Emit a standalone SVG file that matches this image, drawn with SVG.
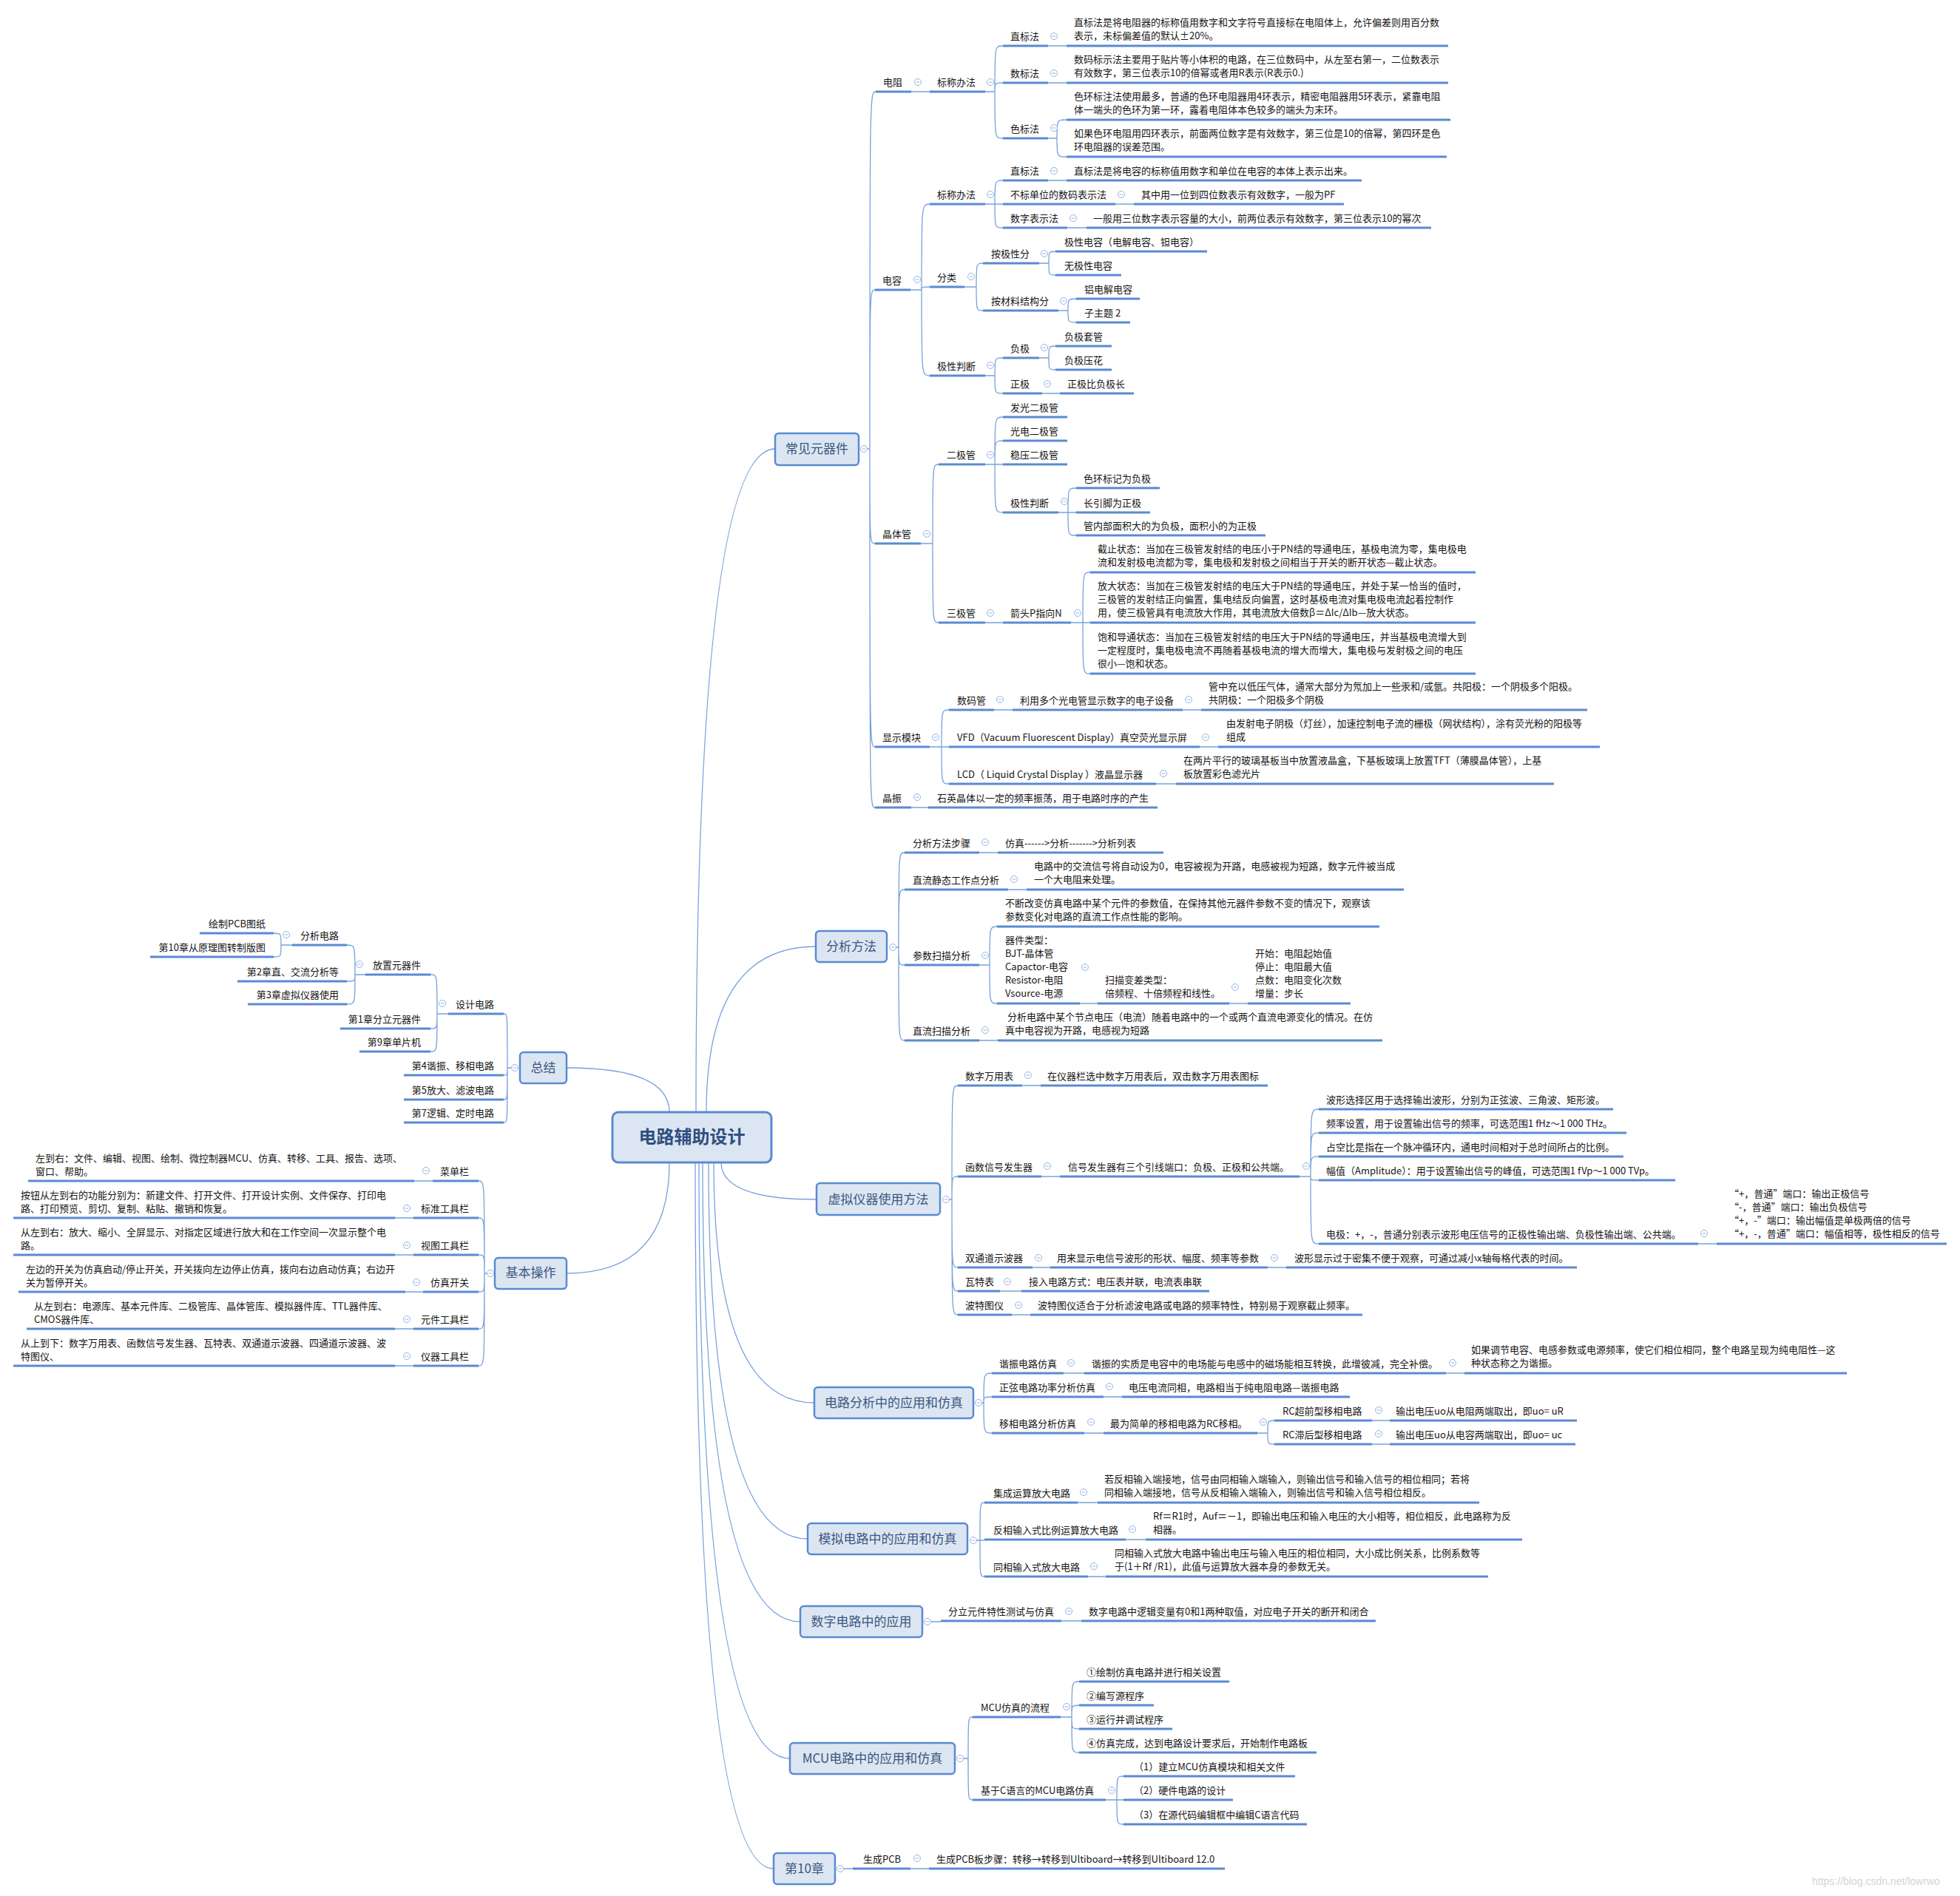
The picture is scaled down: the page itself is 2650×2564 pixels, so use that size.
<svg xmlns="http://www.w3.org/2000/svg" xmlns:xlink="http://www.w3.org/1999/xlink" width="2650" height="2564" viewBox="0 0 2650 2564">
<style>
text{font-family:"Noto Sans CJK SC","Microsoft YaHei","Liberation Sans",sans-serif;font-size:13px;fill:#151515}
.e{text-anchor:end}
.u{stroke:#5A8AD2;stroke-width:3;fill:none}
.c{stroke:#78A2DC;stroke-width:1.3;fill:none}
.b{fill:#DCE6F2;stroke:#5A8AD2;stroke-width:2.5}
.bt{font-size:17px;fill:#3B5680;text-anchor:middle}
.wm{font-size:14px;fill:#d4d4d4;font-family:"Liberation Sans",sans-serif}
</style>
<defs><g id="m"><circle r="4.5" fill="#fff" stroke="#94B3E0"/><path d="M-2.3 0H2.3" stroke="#94B3E0"/></g></defs>
<rect width="2650" height="2564" fill="#fff"/>
<g id="connectors" class="c">
<path d="M941 1504Q941 607 1048 607M955 1504Q955 1280 1103 1280M905 1504Q905 1444 766 1444M975 1572Q975 1622 1104 1622M965 1572Q965 1897 1101 1897M958 1572Q958 2081 1092 2081M950 1572Q950 2193 1082 2193M945 1572Q945 2378 1068 2378M940 1572Q940 2527 1046 2527M905 1572Q905 1722 766 1722"/>
<path d="M1172 607H1176M1176 607C1176 124 1176 124 1184 124M1176 607C1176 392 1176 392 1183 392M1176 607C1176 735 1176 735 1183 735M1176 607C1176 1010 1176 1010 1183 1010M1176 607C1176 1092 1176 1092 1183 1092"/>
<path d="M1232 124H1257M1332 124H1345M1345 124C1345 62 1345 62 1356 62M1345 124C1345 112 1345 112 1356 112M1345 124C1345 187 1345 187 1356 187M1417 62H1442M1417 112H1442M1417 187H1429M1429 187C1429 162 1429 162 1442 162M1429 187C1429 212 1429 212 1442 212"/>
<path d="M1231 392H1246M1246 392C1246 276 1246 276 1257 276M1246 392C1246 388 1246 388 1257 388M1246 392C1246 508 1246 508 1257 508M1332 276H1345M1345 276C1345 244 1345 244 1356 244M1345 276H1356M1345 276C1345 308 1345 308 1356 308M1417 244H1442M1508 276H1533M1443 308H1469M1304 388H1320M1320 388C1320 356 1320 356 1329 356M1320 388C1320 420 1320 420 1329 420M1405 356H1418M1418 356C1418 340 1418 340 1427 340M1418 356C1418 372 1418 372 1427 372M1431 420H1444M1444 420C1444 404 1444 404 1455 404M1444 420C1444 436 1444 436 1455 436M1332 508H1345M1345 508C1345 484 1345 484 1356 484M1345 508C1345 532 1345 532 1356 532M1405 484H1418M1418 484C1418 468 1418 468 1427 468M1418 484C1418 500 1418 500 1427 500M1409 532H1433"/>
<path d="M1245 735H1261M1261 735C1261 628 1261 628 1269 628M1261 735C1261 842 1261 842 1269 842M1332 628H1345M1345 628C1345 564 1345 564 1356 564M1345 628C1345 596 1345 596 1356 596M1345 628H1356M1345 628C1345 693 1345 693 1356 693M1431 693H1444M1444 693C1444 660 1444 660 1455 660M1444 693H1455M1444 693C1444 724 1444 724 1455 724M1332 842H1356M1448 842H1464M1464 842C1464 774 1464 774 1474 774M1464 842H1474M1464 842C1464 911 1464 911 1474 911"/>
<path d="M1257 1010H1273M1273 1010C1273 960 1273 960 1283 960M1273 1010H1283M1273 1010C1273 1060 1273 1060 1283 1060M1344 960H1369M1599 960H1624M1622 1010H1647M1563 1060H1590M1232 1092H1255"/>
<path d="M1211 1281H1215M1215 1281C1215 1153 1215 1153 1223 1153M1215 1281C1215 1203 1215 1203 1223 1203M1215 1281C1215 1305 1215 1305 1223 1305M1215 1281C1215 1407 1215 1407 1223 1407M1324 1153H1349M1363 1203H1388M1324 1305H1338M1338 1305C1338 1253 1338 1253 1348 1253M1338 1305C1338 1357 1338 1357 1348 1357M1460 1357H1484M1662 1357H1687M1324 1407H1349"/>
<path d="M1283 1622H1287M1287 1622C1287 1468 1287 1468 1295 1468M1287 1622C1287 1591 1287 1591 1295 1591M1287 1622C1287 1714 1287 1714 1295 1714M1287 1622C1287 1746 1287 1746 1295 1746M1287 1622C1287 1778 1287 1778 1295 1778M1382 1468H1407M1408 1591H1433M1757 1591H1772M1772 1591C1772 1500 1772 1500 1783 1500M1772 1591C1772 1532 1772 1532 1783 1532M1772 1591C1772 1564 1772 1564 1783 1564M1772 1591C1772 1596 1772 1596 1783 1596M1772 1591C1772 1682 1772 1682 1783 1682M2296 1682H2321M1396 1714H1420M1714 1714H1739M1352 1746H1381M1368 1778H1393"/>
<path d="M1327 1897H1330M1330 1897C1330 1857 1330 1857 1341 1857M1330 1897C1330 1889 1330 1889 1341 1889M1330 1897C1330 1938 1330 1938 1341 1938M1438 1857H1466M1955 1857H1980M1492 1889H1517M1466 1938H1492M1700 1938H1714M1714 1938C1714 1921 1714 1921 1723 1921M1714 1938C1714 1953 1714 1953 1723 1953M1855 1921H1879M1855 1953H1879"/>
<path d="M1320 2083H1325M1325 2083C1325 2032 1325 2032 1331 2032M1325 2083H1331M1325 2083C1325 2132 1325 2132 1331 2132M1457 2032H1484M1522 2082H1549M1471 2132H1495"/>
<path d="M1258 2193H1272M1435 2192H1462"/>
<path d="M1302 2378H1309M1309 2378C1309 2322 1309 2322 1315 2322M1309 2378C1309 2434 1309 2434 1315 2434M1434 2322H1449M1449 2322C1449 2274 1449 2274 1459 2274M1449 2322C1449 2306 1449 2306 1459 2306M1449 2322C1449 2338 1449 2338 1459 2338M1449 2322C1449 2370 1449 2370 1459 2370M1495 2434H1510M1510 2434C1510 2402 1510 2402 1519 2402M1510 2434H1519M1510 2434C1510 2467 1510 2467 1519 2467"/>
<path d="M1140 2527H1153M1231 2527H1256"/>
<path d="M692 1444H686M686 1444C686 1371 686 1371 681 1371M686 1444C686 1454 686 1454 681 1454M686 1444C686 1487 686 1487 681 1487M686 1444C686 1518 686 1518 681 1518M606 1371H591M591 1371C591 1318 591 1318 582 1318M591 1371C591 1391 591 1391 582 1391M591 1371C591 1422 591 1422 582 1422M494 1318H480M480 1318C480 1278 480 1278 469 1278M480 1318C480 1327 480 1327 469 1327M480 1318C480 1358 480 1358 469 1358M395 1278H380M380 1278C380 1262 380 1262 370 1262M380 1278C380 1294 380 1294 370 1294"/>
<path d="M659 1722H655M655 1722C655 1597 655 1597 647 1597M655 1722C655 1647 655 1647 647 1647M655 1722C655 1697 655 1697 647 1697M655 1722C655 1747 655 1747 647 1747M655 1722C655 1797 655 1797 647 1797M655 1722C655 1847 655 1847 647 1847M585 1597H560M559 1647H534M559 1697H534M572 1747H548M559 1797H534M559 1847H534"/>
</g>

<g id="root"><rect x="828" y="1504" width="215" height="68" rx="8" fill="#DCE6F2" stroke="#5A8AD2" stroke-width="3"/><text x="935.5" y="1546" font-size="24" font-weight="bold" text-anchor="middle" style="font-size:24px;fill:#2F4F7F">电路辅助设计</text></g>

<g id="t-changjian"><rect class="b" x="1048" y="586" width="113" height="43" rx="5"/><text class="bt" x="1104.5" y="613">常见元器件</text><use href="#m" x="1168" y="607"/></g>
<g id="t-fenxi"><rect class="b" x="1103" y="1259" width="96" height="42" rx="5"/><text class="bt" x="1151" y="1286">分析方法</text><use href="#m" x="1207" y="1281"/></g>
<g id="t-xuni"><rect class="b" x="1104" y="1600" width="167" height="43" rx="5"/><text class="bt" x="1187.5" y="1628">虚拟仪器使用方法</text><use href="#m" x="1279" y="1622"/></g>
<g id="t-dianlu"><rect class="b" x="1101" y="1876" width="215" height="42" rx="5"/><text class="bt" x="1208.5" y="1903">电路分析中的应用和仿真</text><use href="#m" x="1323" y="1897"/></g>
<g id="t-moni"><rect class="b" x="1092" y="2060" width="216" height="42" rx="5"/><text class="bt" x="1200" y="2087">模拟电路中的应用和仿真</text><use href="#m" x="1316" y="2083"/></g>
<g id="t-shuzi"><rect class="b" x="1082" y="2172" width="165" height="42" rx="5"/><text class="bt" x="1164.5" y="2199">数字电路中的应用</text><use href="#m" x="1254" y="2193"/></g>
<g id="t-mcu"><rect class="b" x="1068" y="2357" width="223" height="42" rx="5"/><text class="bt" x="1179.5" y="2384">MCU电路中的应用和仿真</text><use href="#m" x="1298" y="2378"/></g>
<g id="t-ch10"><rect class="b" x="1046" y="2506" width="83" height="42" rx="5"/><text class="bt" x="1087.5" y="2533">第10章</text><use href="#m" x="1136" y="2527"/></g>
<g id="t-zongjie"><rect class="b" x="703" y="1423" width="63" height="42" rx="5"/><text class="bt" x="734.5" y="1450">总结</text><use href="#m" x="696" y="1444"/></g>
<g id="t-jiben"><rect class="b" x="669" y="1701" width="97" height="42" rx="5"/><text class="bt" x="717.5" y="1727">基本操作</text><use href="#m" x="663" y="1722"/></g>

<!-- 电阻 -->
<g id="n-dianzu"><text x="1194" y="116">电阻</text><path class="u" d="M1184 124H1232"/><use href="#m" x="1241" y="111"/></g>
<g id="n-dz-bc"><text x="1267" y="116">标称办法</text><path class="u" d="M1257 124H1332"/><use href="#m" x="1339" y="111"/></g>
<g id="n-dz-zb"><text x="1366" y="54">直标法</text><path class="u" d="M1356 62H1417"/><use href="#m" x="1425" y="49"/></g>
<g id="n-dz-zb1"><text x="1452" y="35">直标法是将电阻器的标称值用数字和文字符号直接标在电阻体上，允许偏差则用百分数<tspan x="1452" dy="18">表示，未标偏差值的默认±20%。</tspan></text><path class="u" d="M1442 62H1958"/></g>
<g id="n-dz-sb"><text x="1366" y="104">数标法</text><path class="u" d="M1356 112H1417"/><use href="#m" x="1425" y="99"/></g>
<g id="n-dz-sb1"><text x="1452" y="85">数码标示法主要用于贴片等小体积的电路，在三位数码中，从左至右第一，二位数表示<tspan x="1452" dy="18">有效数字，第三位表示10的倍幂或者用R表示(R表示0.)</tspan></text><path class="u" d="M1442 112H1958"/></g>
<g id="n-dz-se"><text x="1366" y="179">色标法</text><path class="u" d="M1356 187H1417"/><use href="#m" x="1425" y="173"/></g>
<g id="n-dz-se1"><text x="1452" y="135">色环标注法使用最多，普通的色环电阻器用4环表示，精密电阻器用5环表示，紧靠电阻<tspan x="1452" dy="18">体一端头的色环为第一环，露着电阻体本色较多的端头为末环。</tspan></text><path class="u" d="M1442 162H1961"/></g>
<g id="n-dz-se2"><text x="1452" y="185">如果色环电阻用四环表示，前面两位数字是有效数字，第三位是10的倍幂，第四环是色<tspan x="1452" dy="18">环电阻器的误差范围。</tspan></text><path class="u" d="M1442 212H1956"/></g>

<!-- 电容 -->
<g id="n-dianrong"><text x="1193" y="384">电容</text><path class="u" d="M1183 392H1231"/><use href="#m" x="1240" y="378"/></g>
<g id="n-dr-bc"><text x="1267" y="268">标称办法</text><path class="u" d="M1257 276H1332"/><use href="#m" x="1339" y="263"/></g>
<g id="n-dr-zb"><text x="1366" y="236">直标法</text><path class="u" d="M1356 244H1417"/><use href="#m" x="1425" y="231"/></g>
<g id="n-dr-zb1"><text x="1452" y="236">直标法是将电容的标称值用数字和单位在电容的本体上表示出来。</text><path class="u" d="M1442 244H1841"/></g>
<g id="n-dr-bb"><text x="1366" y="268">不标单位的数码表示法</text><path class="u" d="M1356 276H1508"/><use href="#m" x="1516" y="263"/></g>
<g id="n-dr-bb1"><text x="1543" y="268">其中用一位到四位数表示有效数字，一般为PF</text><path class="u" d="M1533 276H1817"/></g>
<g id="n-dr-sz"><text x="1366" y="300">数字表示法</text><path class="u" d="M1356 308H1443"/><use href="#m" x="1451" y="295"/></g>
<g id="n-dr-sz1"><text x="1478" y="300">一般用三位数字表示容量的大小，前两位表示有效数字，第三位表示10的幂次</text><path class="u" d="M1469 308H1935"/></g>
<g id="n-dr-fl"><text x="1267" y="380">分类</text><path class="u" d="M1257 388H1304"/><use href="#m" x="1313" y="374"/></g>
<g id="n-dr-jx"><text x="1340" y="348">按极性分</text><path class="u" d="M1329 356H1405"/><use href="#m" x="1412" y="343"/></g>
<g id="n-dr-jx1"><text x="1439" y="332">极性电容（电解电容、钽电容）</text><path class="u" d="M1427 340H1632"/></g>
<g id="n-dr-jx2"><text x="1439" y="364">无极性电容</text><path class="u" d="M1427 372H1516"/></g>
<g id="n-dr-cl"><text x="1340" y="412">按材料结构分</text><path class="u" d="M1329 420H1431"/><use href="#m" x="1438" y="407"/></g>
<g id="n-dr-cl1"><text x="1466" y="396">铝电解电容</text><path class="u" d="M1455 404H1541"/></g>
<g id="n-dr-cl2"><text x="1466" y="428">子主题 2</text><path class="u" d="M1455 436H1528"/></g>
<g id="n-dr-pd"><text x="1267" y="500">极性判断</text><path class="u" d="M1257 508H1332"/><use href="#m" x="1339" y="494"/></g>
<g id="n-dr-fj"><text x="1366" y="476">负极</text><path class="u" d="M1356 484H1405"/><use href="#m" x="1412" y="470"/></g>
<g id="n-dr-fj1"><text x="1439" y="460">负极套管</text><path class="u" d="M1427 468H1503"/></g>
<g id="n-dr-fj2"><text x="1439" y="492">负极压花</text><path class="u" d="M1427 500H1503"/></g>
<g id="n-dr-zj"><text x="1366" y="524">正极</text><path class="u" d="M1356 532H1409"/><use href="#m" x="1416" y="519"/></g>
<g id="n-dr-zj1"><text x="1443" y="524">正极比负极长</text><path class="u" d="M1433 532H1533"/></g>

<!-- 晶体管 -->
<g id="n-jingti"><text x="1193" y="727">晶体管</text><path class="u" d="M1183 735H1245"/><use href="#m" x="1253" y="722"/></g>
<g id="n-ejg"><text x="1280" y="620">二极管</text><path class="u" d="M1269 628H1332"/><use href="#m" x="1339" y="615"/></g>
<g id="n-ejg1"><text x="1366" y="556">发光二极管</text><path class="u" d="M1356 564H1443"/></g>
<g id="n-ejg2"><text x="1366" y="588">光电二极管</text><path class="u" d="M1356 596H1443"/></g>
<g id="n-ejg3"><text x="1366" y="620">稳压二极管</text><path class="u" d="M1356 628H1443"/></g>
<g id="n-ejg4"><text x="1366" y="685">极性判断</text><path class="u" d="M1356 693H1431"/><use href="#m" x="1439" y="678"/></g>
<g id="n-ejg41"><text x="1465" y="652">色环标记为负极</text><path class="u" d="M1455 660H1568"/></g>
<g id="n-ejg42"><text x="1465" y="685">长引脚为正极</text><path class="u" d="M1455 693H1555"/></g>
<g id="n-ejg43"><text x="1465" y="716">管内部面积大的为负极，面积小的为正极</text><path class="u" d="M1455 724H1711"/></g>
<g id="n-sjg"><text x="1280" y="834">三极管</text><path class="u" d="M1269 842H1332"/><use href="#m" x="1339" y="829"/></g>
<g id="n-sjg-jt"><text x="1366" y="834">箭头P指向N</text><path class="u" d="M1356 842H1448"/><use href="#m" x="1457" y="829"/></g>
<g id="n-sjg1"><text x="1484" y="747">截止状态：当加在三极管发射结的电压小于PN结的导通电压，基极电流为零，集电极电<tspan x="1484" dy="18">流和发射极电流都为零，集电极和发射极之间相当于开关的断开状态—截止状态。</tspan></text><path class="u" d="M1474 774H1995"/></g>
<g id="n-sjg2"><text x="1484" y="797">放大状态：当加在三极管发射结的电压大于PN结的导通电压，并处于某一恰当的值时，<tspan x="1484" dy="18">三极管的发射结正向偏置，集电结反向偏置，这时基极电流对集电极电流起着控制作</tspan><tspan x="1484" dy="18">用，使三极管具有电流放大作用，其电流放大倍数β＝ΔIc/ΔIb—放大状态。</tspan></text><path class="u" d="M1474 842H1995"/></g>
<g id="n-sjg3"><text x="1484" y="866">饱和导通状态：当加在三极管发射结的电压大于PN结的导通电压，并当基极电流增大到<tspan x="1484" dy="18">一定程度时，集电极电流不再随着基极电流的增大而增大，集电极与发射极之间的电压</tspan><tspan x="1484" dy="18">很小—饱和状态。</tspan></text><path class="u" d="M1474 911H1995"/></g>

<!-- 显示模块 -->
<g id="n-xianshi"><text x="1193" y="1002">显示模块</text><path class="u" d="M1183 1010H1257"/><use href="#m" x="1265" y="997"/></g>
<g id="n-smg"><text x="1294" y="952">数码管</text><path class="u" d="M1283 960H1344"/><use href="#m" x="1352" y="946"/></g>
<g id="n-smg1"><text x="1379" y="952">利用多个光电管显示数字的电子设备</text><path class="u" d="M1369 960H1599"/><use href="#m" x="1607" y="946"/></g>
<g id="n-smg2"><text x="1634" y="933">管中充以低压气体，通常大部分为氖加上一些汞和/或氩。共阳极：一个阴极多个阳极。<tspan x="1634" dy="18">共阴极：一个阳极多个阴极</tspan></text><path class="u" d="M1624 960H2146"/></g>
<g id="n-vfd"><text x="1294" y="1002">VFD（Vacuum Fluorescent Display）真空荧光显示屏</text><path class="u" d="M1283 1010H1622"/><use href="#m" x="1630" y="997"/></g>
<g id="n-vfd1"><text x="1658" y="983">由发射电子阴极（灯丝），加速控制电子流的栅极（网状结构），涂有荧光粉的阳极等<tspan x="1658" dy="18">组成</tspan></text><path class="u" d="M1647 1010H2163"/></g>
<g id="n-lcd"><text x="1294" y="1052">LCD（ Liquid Crystal Display ）液晶显示器</text><path class="u" d="M1283 1060H1563"/><use href="#m" x="1573" y="1046"/></g>
<g id="n-lcd1"><text x="1600" y="1033">在两片平行的玻璃基板当中放置液晶盒，下基板玻璃上放置TFT（薄膜晶体管），上基<tspan x="1600" dy="18">板放置彩色滤光片</tspan></text><path class="u" d="M1590 1060H2101"/></g>
<g id="n-jz"><text x="1193" y="1084">晶振</text><path class="u" d="M1183 1092H1232"/><use href="#m" x="1240" y="1078"/></g>
<g id="n-jz1"><text x="1267" y="1084">石英晶体以一定的频率振荡，用于电路时序的产生</text><path class="u" d="M1255 1092H1565"/></g>

<!-- 分析方法 -->
<g id="n-fx1"><text x="1234" y="1145">分析方法步骤</text><path class="u" d="M1223 1153H1324"/><use href="#m" x="1332" y="1139"/></g>
<g id="n-fx11"><text x="1359" y="1145">仿真------&gt;分析-------&gt;分析列表</text><path class="u" d="M1349 1153H1573"/></g>
<g id="n-fx2"><text x="1234" y="1195">直流静态工作点分析</text><path class="u" d="M1223 1203H1363"/><use href="#m" x="1371" y="1189"/></g>
<g id="n-fx21"><text x="1398" y="1176">电路中的交流信号将自动设为0，电容被视为开路，电感被视为短路，数字元件被当成<tspan x="1398" dy="18">一个大电阻来处理。</tspan></text><path class="u" d="M1388 1203H1898"/></g>
<g id="n-fx3"><text x="1234" y="1297">参数扫描分析</text><path class="u" d="M1223 1305H1324"/><use href="#m" x="1332" y="1292"/></g>
<g id="n-fx31"><text x="1359" y="1226">不断改变仿真电路中某个元件的参数值，在保持其他元器件参数不变的情况下，观察该<tspan x="1359" dy="18">参数变化对电路的直流工作点性能的影响。</tspan></text><path class="u" d="M1348 1253H1865"/></g>
<g id="n-fx32"><text x="1359" y="1276">器件类型：<tspan x="1359" dy="18">BJT-晶体管</tspan><tspan x="1359" dy="18">Capactor-电容</tspan><tspan x="1359" dy="18">Resistor-电阻</tspan><tspan x="1359" dy="18">Vsource-电源</tspan></text><path class="u" d="M1348 1357H1460"/><use href="#m" x="1467" y="1308"/></g>
<g id="n-fx33"><text x="1494" y="1330">扫描变差类型：<tspan x="1494" dy="18">倍频程、十倍频程和线性。</tspan></text><path class="u" d="M1484 1357H1662"/><use href="#m" x="1670" y="1335"/></g>
<g id="n-fx34"><text x="1697" y="1294">开始：电阻起始值<tspan x="1697" dy="18">停止：电阻最大值</tspan><tspan x="1697" dy="18">点数：电阻变化次数</tspan><tspan x="1697" dy="18">增量：步长</tspan></text><path class="u" d="M1687 1357H1826"/></g>
<g id="n-fx4"><text x="1234" y="1399">直流扫描分析</text><path class="u" d="M1223 1407H1324"/><use href="#m" x="1332" y="1393"/></g>
<g id="n-fx41"><text x="1359" y="1380" xml:space="preserve"> 分析电路中某个节点电压（电流）随着电路中的一个或两个直流电源变化的情况。在仿<tspan x="1359" dy="18">真中电容视为开路，电感视为短路</tspan></text><path class="u" d="M1349 1407H1869"/></g>

<!-- 虚拟仪器 -->
<g id="n-xn1"><text x="1305" y="1460">数字万用表</text><path class="u" d="M1295 1468H1382"/><use href="#m" x="1390" y="1454"/></g>
<g id="n-xn11"><text x="1416" y="1460">在仪器栏选中数字万用表后，双击数字万用表图标</text><path class="u" d="M1407 1468H1714"/></g>
<g id="n-xn2"><text x="1305" y="1583">函数信号发生器</text><path class="u" d="M1295 1591H1408"/><use href="#m" x="1416" y="1577"/></g>
<g id="n-xn21"><text x="1444" y="1583">信号发生器有三个引线端口：负极、正极和公共端。</text><path class="u" d="M1433 1591H1757"/><use href="#m" x="1766" y="1577"/></g>
<g id="n-xn211"><text x="1793" y="1492">波形选择区用于选择输出波形，分别为正弦波、三角波、矩形波。</text><path class="u" d="M1783 1500H2181"/></g>
<g id="n-xn212"><text x="1793" y="1524">频率设置，用于设置输出信号的频率，可选范围1 fHz～1 000 THz。</text><path class="u" d="M1783 1532H2199"/></g>
<g id="n-xn213"><text x="1793" y="1556">占空比是指在一个脉冲循环内，通电时间相对于总时间所占的比例。</text><path class="u" d="M1783 1564H2195"/></g>
<g id="n-xn214"><text x="1793" y="1588">幅值（Amplitude）：用于设置输出信号的峰值，可选范围1 fVp～1 000 TVp。</text><path class="u" d="M1783 1596H2265"/></g>
<g id="n-xn215"><text x="1793" y="1674">电极：+，-，普通分别表示波形电压信号的正极性输出端、负极性输出端、公共端。</text><path class="u" d="M1783 1682H2296"/><use href="#m" x="2304" y="1668"/></g>
<g id="n-xn2151"><text x="2338" y="1619">“+，普通”端口：输出正极信号<tspan x="2338" dy="18">“-，普通”端口：输出负极信号</tspan><tspan x="2338" dy="18">“+，-”端口：输出幅值是单极两倍的信号</tspan><tspan x="2338" dy="18">“+，-，普通”端口：幅值相等，极性相反的信号</tspan></text><path class="u" d="M2321 1682H2632"/></g>
<g id="n-xn3"><text x="1305" y="1706">双通道示波器</text><path class="u" d="M1295 1714H1396"/><use href="#m" x="1404" y="1701"/></g>
<g id="n-xn31"><text x="1429" y="1706">用来显示电信号波形的形状、幅度、频率等参数</text><path class="u" d="M1420 1714H1714"/><use href="#m" x="1723" y="1701"/></g>
<g id="n-xn311"><text x="1750" y="1706">波形显示过于密集不便于观察，可通过减小x轴每格代表的时间。</text><path class="u" d="M1739 1714H2132"/></g>
<g id="n-xn4"><text x="1305" y="1738">瓦特表</text><path class="u" d="M1295 1746H1352"/><use href="#m" x="1362" y="1733"/></g>
<g id="n-xn41"><text x="1391" y="1738">接入电路方式：电压表并联，电流表串联</text><path class="u" d="M1381 1746H1635"/></g>
<g id="n-xn5"><text x="1305" y="1770">波特图仪</text><path class="u" d="M1295 1778H1368"/><use href="#m" x="1377" y="1765"/></g>
<g id="n-xn51"><text x="1403" y="1770">波特图仪适合于分析滤波电路或电路的频率特性，特别易于观察截止频率。</text><path class="u" d="M1393 1778H1842"/></g>

<!-- 电路分析中的应用和仿真 -->
<g id="n-dl1"><text x="1351" y="1849">谐振电路仿真</text><path class="u" d="M1341 1857H1438"/><use href="#m" x="1448" y="1843"/></g>
<g id="n-dl11"><text x="1476" y="1849">谐振的实质是电容中的电场能与电感中的磁场能相互转换，此增彼减，完全补偿。</text><path class="u" d="M1466 1857H1955"/><use href="#m" x="1964" y="1843"/></g>
<g id="n-dl111"><text x="1989" y="1830">如果调节电容、电感参数或电源频率，使它们相位相同，整个电路呈现为纯电阻性—这<tspan x="1989" dy="18">种状态称之为谐振。</tspan></text><path class="u" d="M1980 1857H2497"/></g>
<g id="n-dl2"><text x="1351" y="1881">正弦电路功率分析仿真</text><path class="u" d="M1341 1889H1492"/><use href="#m" x="1500" y="1875"/></g>
<g id="n-dl21"><text x="1526" y="1881">电压电流同相，电路相当于纯电阻电路—谐振电路</text><path class="u" d="M1517 1889H1825"/></g>
<g id="n-dl3"><text x="1351" y="1930">移相电路分析仿真</text><path class="u" d="M1341 1938H1466"/><use href="#m" x="1475" y="1923"/></g>
<g id="n-dl31"><text x="1501" y="1930">最为简单的移相电路为RC移相。</text><path class="u" d="M1492 1938H1700"/><use href="#m" x="1708" y="1923"/></g>
<g id="n-dl311"><text x="1734" y="1913">RC超前型移相电路</text><path class="u" d="M1723 1921H1855"/><use href="#m" x="1864" y="1907"/></g>
<g id="n-dl3111"><text x="1887" y="1913">输出电压uo从电阻两端取出，即uo= uR</text><path class="u" d="M1879 1921H2132"/></g>
<g id="n-dl312"><text x="1734" y="1945">RC滞后型移相电路</text><path class="u" d="M1723 1953H1855"/><use href="#m" x="1864" y="1939"/></g>
<g id="n-dl3121"><text x="1887" y="1945">输出电压uo从电容两端取出，即uo= uc</text><path class="u" d="M1879 1953H2130"/></g>

<!-- 模拟电路 -->
<g id="n-mn1"><text x="1343" y="2024">集成运算放大电路</text><path class="u" d="M1331 2032H1457"/><use href="#m" x="1465" y="2018"/></g>
<g id="n-mn11"><text x="1493" y="2005">若反相输入端接地，信号由同相输入端输入，则输出信号和输入信号的相位相同；若将<tspan x="1493" dy="18">同相输入端接地，信号从反相输入端输入，则输出信号和输入信号相位相反。</tspan></text><path class="u" d="M1484 2032H2000"/></g>
<g id="n-mn2"><text x="1343" y="2074">反相输入式比例运算放大电路</text><path class="u" d="M1331 2082H1522"/><use href="#m" x="1531" y="2068"/></g>
<g id="n-mn21"><text x="1559" y="2055">Rf＝R1时，Auf＝－1，即输出电压和输入电压的大小相等，相位相反，此电路称为反<tspan x="1559" dy="18">相器。</tspan></text><path class="u" d="M1549 2082H2058"/></g>
<g id="n-mn3"><text x="1343" y="2124">同相输入式放大电路</text><path class="u" d="M1331 2132H1471"/><use href="#m" x="1479" y="2118"/></g>
<g id="n-mn31"><text x="1507" y="2105">同相输入式放大电路中输出电压与输入电压的相位相同，大小成比例关系，比例系数等<tspan x="1507" dy="18">于(1＋Rf /R1)，此值与运算放大器本身的参数无关。</tspan></text><path class="u" d="M1495 2132H2012"/></g>

<!-- 数字电路 -->
<g id="n-sz1"><text x="1282" y="2184">分立元件特性测试与仿真</text><path class="u" d="M1272 2192H1435"/><use href="#m" x="1445" y="2179"/></g>
<g id="n-sz11"><text x="1472" y="2184">数字电路中逻辑变量有0和1两种取值，对应电子开关的断开和闭合</text><path class="u" d="M1462 2192H1860"/></g>

<!-- MCU -->
<g id="n-mcu1"><text x="1326" y="2314">MCU仿真的流程</text><path class="u" d="M1315 2322H1434"/><use href="#m" x="1442" y="2308"/></g>
<g id="n-mcu11"><text x="1469" y="2266">①绘制仿真电路并进行相关设置</text><path class="u" d="M1459 2274H1662"/></g>
<g id="n-mcu12"><text x="1469" y="2298">②编写源程序</text><path class="u" d="M1459 2306H1560"/></g>
<g id="n-mcu13"><text x="1469" y="2330">③运行并调试程序</text><path class="u" d="M1459 2338H1585"/></g>
<g id="n-mcu14"><text x="1469" y="2362">④仿真完成，达到电路设计要求后，开始制作电路板</text><path class="u" d="M1459 2370H1780"/></g>
<g id="n-mcu2"><text x="1326" y="2426">基于C语言的MCU电路仿真</text><path class="u" d="M1315 2434H1495"/><use href="#m" x="1503" y="2421"/></g>
<g id="n-mcu21"><text x="1533" y="2394">（1）建立MCU仿真模块和相关文件</text><path class="u" d="M1519 2402H1751"/></g>
<g id="n-mcu22"><text x="1533" y="2426">（2）硬件电路的设计</text><path class="u" d="M1519 2434H1667"/></g>
<g id="n-mcu23"><text x="1533" y="2459">（3）在源代码编辑框中编辑C语言代码</text><path class="u" d="M1519 2467H1767"/></g>

<!-- 第10章 -->
<g id="n-pcb"><text x="1167" y="2519">生成PCB</text><path class="u" d="M1153 2527H1231"/><use href="#m" x="1240" y="2513"/></g>
<g id="n-pcb1"><text x="1266" y="2519">生成PCB板步骤：转移→转移到Ultiboard→转移到Ultiboard 12.0</text><path class="u" d="M1256 2527H1656"/></g>

<!-- 总结 -->
<g id="n-zj1"><text class="e" x="668" y="1363">设计电路</text><path class="u" d="M606 1371H681"/><use href="#m" x="598" y="1357"/></g>
<g id="n-zj11"><text class="e" x="569" y="1310">放置元器件</text><path class="u" d="M494 1318H582"/><use href="#m" x="486" y="1304"/></g>
<g id="n-zj111"><text class="e" x="458" y="1270">分析电路</text><path class="u" d="M395 1278H469"/><use href="#m" x="387" y="1264"/></g>
<g id="n-zj1111"><text class="e" x="359" y="1254">绘制PCB图纸</text><path class="u" d="M270 1262H370"/></g>
<g id="n-zj1112"><text class="e" x="359" y="1286">第10章从原理图转制版图</text><path class="u" d="M203 1294H370"/></g>
<g id="n-zj112"><text class="e" x="458" y="1319">第2章直、交流分析等</text><path class="u" d="M321 1327H469"/></g>
<g id="n-zj113"><text class="e" x="458" y="1350">第3章虚拟仪器使用</text><path class="u" d="M335 1358H469"/></g>
<g id="n-zj12"><text class="e" x="569" y="1383">第1章分立元器件</text><path class="u" d="M460 1391H582"/></g>
<g id="n-zj13"><text class="e" x="569" y="1414">第9章单片机</text><path class="u" d="M486 1422H582"/></g>
<g id="n-zj2"><text class="e" x="668" y="1446">第4谐振、移相电路</text><path class="u" d="M546 1454H681"/></g>
<g id="n-zj3"><text class="e" x="668" y="1479">第5放大、滤波电路</text><path class="u" d="M546 1487H681"/></g>
<g id="n-zj4"><text class="e" x="668" y="1510">第7逻辑、定时电路</text><path class="u" d="M546 1518H681"/></g>

<!-- 基本操作 -->
<g id="n-jb1"><text class="e" x="634" y="1589">菜单栏</text><path class="u" d="M585 1597H647"/><use href="#m" x="576" y="1583"/></g>
<g id="n-jb11"><text x="48" y="1571">左到右：文件、编辑、视图、绘制、微控制器MCU、仿真、转移、工具、报告、选项、<tspan x="48" dy="18">窗口、帮助。</tspan></text><path class="u" d="M38 1597H560"/></g>
<g id="n-jb2"><text class="e" x="634" y="1639">标准工具栏</text><path class="u" d="M559 1647H647"/><use href="#m" x="550" y="1634"/></g>
<g id="n-jb21"><text x="28" y="1621">按钮从左到右的功能分别为：新建文件、打开文件、打开设计实例、文件保存、打印电<tspan x="28" dy="18">路、打印预览、剪切、复制、粘贴、撤销和恢复。</tspan></text><path class="u" d="M18 1647H534"/></g>
<g id="n-jb3"><text class="e" x="634" y="1689">视图工具栏</text><path class="u" d="M559 1697H647"/><use href="#m" x="550" y="1684"/></g>
<g id="n-jb31"><text x="28" y="1671">从左到右：放大、缩小、全屏显示、对指定区域进行放大和在工作空间一次显示整个电<tspan x="28" dy="18">路。</tspan></text><path class="u" d="M18 1697H534"/></g>
<g id="n-jb4"><text class="e" x="634" y="1739">仿真开关</text><path class="u" d="M572 1747H647"/><use href="#m" x="563" y="1734"/></g>
<g id="n-jb41"><text x="35" y="1721">左边的开关为仿真启动/停止开关，开关拨向左边停止仿真，拨向右边启动仿真；右边开<tspan x="35" dy="18">关为暂停开关。</tspan></text><path class="u" d="M25 1747H548"/></g>
<g id="n-jb5"><text class="e" x="634" y="1789">元件工具栏</text><path class="u" d="M559 1797H647"/><use href="#m" x="550" y="1784"/></g>
<g id="n-jb51"><text x="46" y="1771">从左到右：电源库、基本元件库、二极管库、晶体管库、模拟器件库、TTL器件库、<tspan x="46" dy="18">CMOS器件库、</tspan></text><path class="u" d="M36 1797H534"/></g>
<g id="n-jb6"><text class="e" x="634" y="1839">仪器工具栏</text><path class="u" d="M559 1847H647"/><use href="#m" x="550" y="1834"/></g>
<g id="n-jb61"><text x="28" y="1821">从上到下：数字万用表、函数信号发生器、瓦特表、双通道示波器、四通道示波器、波<tspan x="28" dy="18">特图仪、</tspan></text><path class="u" d="M18 1847H534"/></g>

<text class="wm" x="2450" y="2549">https://blog.csdn.net/lowrwo</text>
</svg>
